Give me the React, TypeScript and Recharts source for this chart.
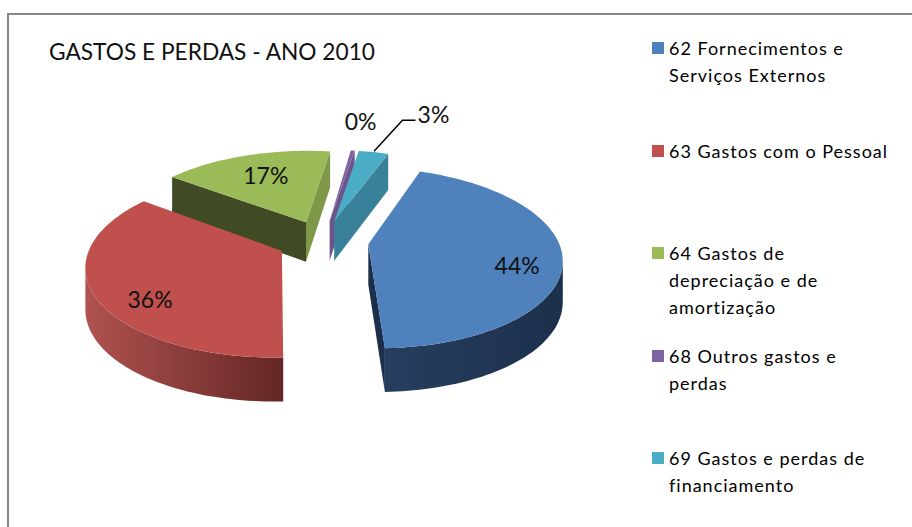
import React from "react";
import { Legend, Pie, PieChart } from "recharts";

const categories = [
  "62 Fornecimentos e Serviços Externos",
  "63 Gastos com o Pessoal",
  "64 Gastos de depreciação e de amortização",
  "68 Outros gastos e perdas",
  "69 Gastos e perdas de financiamento",
];
const values = [44, 36, 17, 0.4, 3];
const colors = ["#4f81bd", "#c0504d", "#9bbb59", "#8064a2", "#4bacc6"];

// side walls of each slice: outer rim left/right, first and last radial wall
const rimFrom = ["#263e60", "#b05250", "#7e9848", "#6c5389", "#398199"];
const rimTo = ["#1c304b", "#642725", "#7e9848", "#6c5389", "#398199"];
const firstWall = ["#1c304b", "#642725", "#404a24", "#5c4676", "#398199"];
const lastWall = ["#1c304b", "#642725", "#7e9848", "#6c5389", "#398199"];

// label tweaks, the source chart nudges them by hand
const labelReach = [1, 1, 1, 1.6, 1.6];
const labelNudge = [
  [2, 10],
  [8, 14],
  [7, 5],
  [1, -8],
  [48, -17],
];

// painted back to front, so the table starts at the green slice
const drawOrder = [2, 3, 4, 0, 1];
const tableData = drawOrder.map((i) => ({
  name: categories[i],
  value: values[i],
  fill: colors[i],
  idx: i,
}));

const START_CLOCKWISE = 306.9;
const EXPLODE = 0.24;
const PERSPECTIVE = 0.15;
const SQUASH = 0.46;

const rad = (deg: number) => (deg * Math.PI) / 180;
const dir = (deg: number) => [Math.sin(rad(deg)), Math.cos(rad(deg))];

const project = (cx: number, cy: number, r: number, x: number, y: number) => {
  const s = 1 / (1 + PERSPECTIVE * y);
  return [cx + r * x * s, cy - r * SQUASH * y * s];
};
const depthAt = (y: number) => 40.2 - 3.4 * y;

const toPath = (pts: number[][]) =>
  "M" + pts.map((p) => `${p[0].toFixed(1)},${p[1].toFixed(1)}`).join("L") + "Z";

const Slice3D = (props: any) => {
  const { cx, cy, outerRadius: r, startAngle, endAngle, payload } = props;
  const idx = payload.idx;
  const t1 = 90 - startAngle;
  const t2 = 90 - endAngle;
  const off = dir((t1 + t2) / 2).map((v) => v * EXPLODE);

  const world: number[][] = [];
  const steps = Math.max(2, Math.ceil((t2 - t1) / 1.5));
  for (let i = 0; i <= steps; i++) {
    const d = dir(t1 + ((t2 - t1) * i) / steps);
    world.push([d[0] + off[0], d[1] + off[1]]);
  }
  const top = (w: number[]) => project(cx, cy, r, w[0], w[1]);
  const low = (w: number[]) => {
    const p = top(w);
    return [p[0], p[1] + depthAt(w[1])];
  };
  const wall = (a: number[], b: number[]) => [top(a), top(b), low(b), low(a)];

  const rim = world.filter((w, i) => {
    if (i === world.length - 1) return top(world[i - 1])[0] > top(w)[0];
    return top(world[i + 1])[0] < top(w)[0];
  });
  const rimXs = rim.map((w) => top(w)[0]);
  const gradId = `rim-${idx}`;
  const apexP = top(off);

  return (
    <g>
      {rim.length > 1 && (
        <>
          <defs>
            <linearGradient
              id={gradId}
              gradientUnits="userSpaceOnUse"
              x1={Math.min(...rimXs)}
              x2={Math.max(...rimXs)}
              y1={0}
              y2={0}
            >
              <stop offset="0%" stopColor={rimFrom[idx]} />
              <stop offset="100%" stopColor={rimTo[idx]} />
            </linearGradient>
          </defs>
          <path d={toPath([...rim.map(top), ...[...rim].reverse().map(low)])} fill={`url(#${gradId})`} />
        </>
      )}
      {top(world[0])[0] < apexP[0] && <path d={toPath(wall(off, world[0]))} fill={firstWall[idx]} />}
      {apexP[0] < top(world[world.length - 1])[0] && (
        <path d={toPath(wall(world[world.length - 1], off))} fill={lastWall[idx]} />
      )}
      <path d={toPath([apexP, ...world.map(top)])} fill={colors[idx]} />
    </g>
  );
};

const SliceLabel = (props: any) => {
  const { cx, cy, outerRadius: r, midAngle, percent, payload } = props;
  const idx = payload.idx;
  const d = dir(90 - midAngle);
  const reach = labelReach[idx];
  const p = project(cx, cy, r, d[0] * reach, d[1] * reach);
  const lx = p[0] + labelNudge[idx][0];
  const ly = p[1] + labelNudge[idx][1];
  const edge = project(cx, cy, r, d[0] * 1.254, d[1] * 1.254);
  return (
    <g>
      {idx === 4 && (
        <polyline
          points={`${edge[0]},${edge[1]} ${lx - 31},${ly + 6} ${lx - 18},${ly + 6}`}
          fill="none"
          stroke="#000"
          strokeWidth={1.5}
        />
      )}
      <text
        x={lx}
        y={ly}
        textAnchor="middle"
        dominantBaseline="central"
        fontFamily="Lato"
        fontSize={23}
        fill="#111"
      >
        {Math.round(percent * 100)}%
      </text>
    </g>
  );
};

const LegendList = ({ payload }: any) => {
  const items = [...(payload || [])].sort(
    (a: any, b: any) => categories.indexOf(a.value) - categories.indexOf(b.value)
  );
  return (
    <div>
      {items.map((item: any) => (
        <div key={item.value} style={{ height: 102.5, display: "flex", alignItems: "flex-start" }}>
          <span
            style={{
              width: 12,
              height: 12,
              marginTop: 7,
              marginRight: 5,
              flex: "none",
              background: colors[categories.indexOf(item.value)],
            }}
          />
          <span
            style={{
              width: 222,
              fontFamily: "Lato",
              fontSize: 18,
              lineHeight: "27px",
              letterSpacing: 1,
              color: "#000",
            }}
          >
            {item.value}
          </span>
        </div>
      ))}
    </div>
  );
};

export default function App() {
  return (
    <div
      style={{
        position: "absolute",
        left: 0,
        top: 0,
        width: 912,
        height: 527,
        overflow: "hidden",
        background: "#fff",
      }}
    >
      <div
        style={{
          position: "absolute",
          left: 7,
          top: 13,
          width: 905,
          height: 514,
          borderTop: "2px solid #868686",
          borderLeft: "2px solid #868686",
          boxSizing: "border-box",
        }}
      />
      <div
        style={{
          position: "absolute",
          left: 49,
          top: 37,
          fontFamily: "Lato",
          fontSize: 22.7,
          lineHeight: "30px",
          color: "#111",
          whiteSpace: "nowrap",
        }}
      >
        GASTOS E PERDAS - ANO 2010
      </div>
      <PieChart width={912} height={527} margin={{ top: 0, right: 0, bottom: 0, left: 0 }}>
        <Pie
          data={tableData}
          dataKey="value"
          nameKey="name"
          cx={323}
          cy={241}
          outerRadius={190}
          startAngle={90 - START_CLOCKWISE}
          endAngle={90 - START_CLOCKWISE - 360}
          stroke="none"
          shape={Slice3D}
          label={SliceLabel}
          labelLine={false}
          isAnimationActive={false}
        />
        <Legend
          layout="vertical"
          align="right"
          verticalAlign="top"
          content={LegendList}
          wrapperStyle={{ left: 652, top: 35, right: "auto", width: 250 }}
        />
      </PieChart>
    </div>
  );
}
